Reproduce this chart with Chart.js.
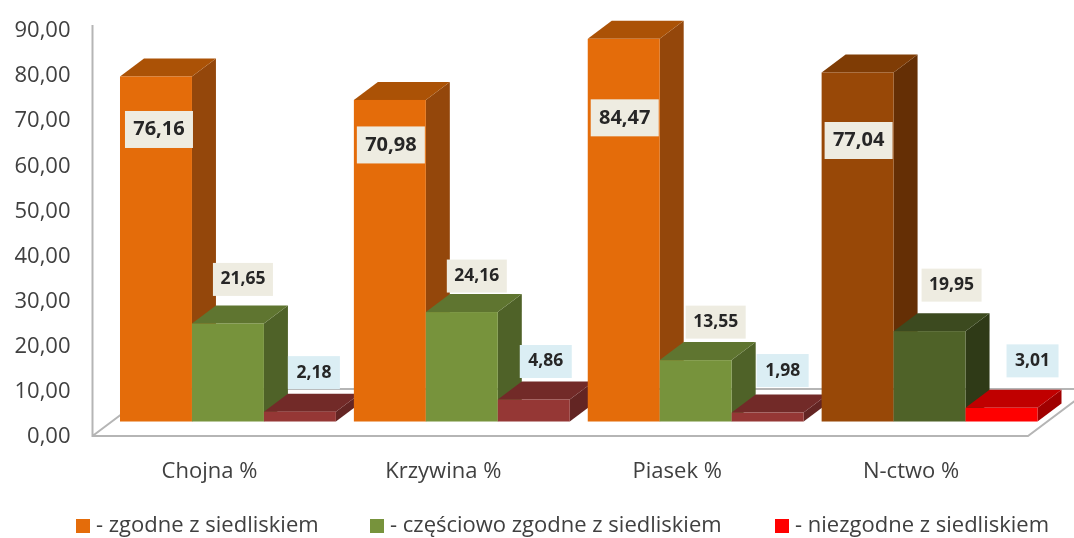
<!DOCTYPE html>
<html><head><meta charset="utf-8">
<style>html,body{margin:0;padding:0;background:#fff}#wrap{position:relative;width:1074px;height:538px}canvas{filter:blur(0.5px)}</style>
<script src="https://cdn.jsdelivr.net/npm/chart.js@4"></script>
</head><body><div id="wrap"><canvas id="c" width="1074" height="538"></canvas></div>
<script>
const categories = ['Chojna %','Krzywina %','Piasek %','N-ctwo %'];
const zgodne = [76.16,70.98,84.47,77.04];
const czesciowo = [21.65,24.16,13.55,19.95];
const niezgodne = [2.18,4.86,1.98,3.01];
const seriesNames = ['- zgodne z siedliskiem','- częściowo zgodne z siedliskiem','- niezgodne z siedliskiem'];
const yTicks = [0,10,20,30,40,50,60,70,80,90];

const FONT = '"Open Sans", sans-serif';
const DEPTH_X = 24, DEPTH_Y = 18, SHIFT_X = 18.5;
// colours: [front, side, top]
const palette = [
 [['#e46c0a','#94470b','#ab5206'],['#e46c0a','#94470b','#ab5206'],['#e46c0a','#94470b','#ab5206'],['#984807','#652f05','#7f3c05']],
 [['#77933c','#4f6228','#5f7530'],['#77933c','#4f6228','#5f7530'],['#77933c','#4f6228','#5f7530'],['#4f6228','#2f3a17','#3c4a1f']],
 [['#953735','#632523','#722a28'],['#953735','#632523','#722a28'],['#953735','#632523','#722a28'],['#ff0000','#a00000','#c00000']]
];
const legendColors = ['#e46c0a','#77933c','#ff0000'];
const legendX = [76,370,775];
// data-label placement relative to the top centre of each bar's front face
const labelShift = [
 [[3,53],[1,45],[1,79],[1,68]],
 [[15,-44],[15,-36],[20,-38],[22,-46]],
 [[14,-39],[12,-38],[15,-42],[31,-47]]
];
const labelStyle = [
 {fill:'#eeece1',font:'bold 20px '+FONT,w:68,h:37},
 {fill:'#eeece1',font:'bold 17.5px '+FONT,w:60,h:33},
 {fill:'#dbeef4',font:'bold 17.5px '+FONT,w:52,h:33}
];
const fmt = v => v.toFixed(2).replace('.',',');

const cuboid = {
  id:'cuboid',
  beforeDatasetDraw(){ return false; },
  beforeDatasetsDraw(chart){
    const {ctx,chartArea:a} = chart;
    // floor and axis wall
    const fy = a.bottom-1, bx = 47*DEPTH_X/DEPTH_Y;
    ctx.save();
    ctx.strokeStyle='#b5b5b5'; ctx.lineWidth=2;
    ctx.beginPath();
    ctx.moveTo(a.left,a.top-6); ctx.lineTo(a.left,fy); ctx.lineTo(a.right,fy);
    ctx.lineTo(a.right+bx,fy-47); ctx.lineTo(a.left+bx,fy-47); ctx.lineTo(a.left,fy);
    ctx.stroke();
    ctx.restore();
  },
  afterDatasetsDraw(chart){
    const {ctx} = chart;
    const metas = [0,1,2].map(i=>chart.getDatasetMeta(i));
    for(let c=0;c<categories.length;c++){
      metas.forEach((m,d)=>{
        const b = m.data[c], col = palette[d][c];
        const l = b.x-b.width/2+SHIFT_X, r = b.x+b.width/2+SHIFT_X, t = b.y, f = b.base;
        ctx.fillStyle = col[1];
        ctx.beginPath();ctx.moveTo(r,f);ctx.lineTo(r+DEPTH_X,f-DEPTH_Y);ctx.lineTo(r+DEPTH_X,t-DEPTH_Y);ctx.lineTo(r,t);ctx.closePath();ctx.fill();
        ctx.fillStyle = col[2];
        ctx.beginPath();ctx.moveTo(l,t);ctx.lineTo(l+DEPTH_X,t-DEPTH_Y);ctx.lineTo(r+DEPTH_X,t-DEPTH_Y);ctx.lineTo(r,t);ctx.closePath();ctx.fill();
        ctx.fillStyle = col[0];
        ctx.fillRect(l,t,r-l,f-t);
      });
    }
    ctx.textAlign='center';ctx.textBaseline='middle';
    metas.forEach((m,d)=>{
      m.data.forEach((b,c)=>{
        const s = labelStyle[d], sh = labelShift[d][c];
        const x = b.x+SHIFT_X+sh[0], y = b.y+sh[1];
        ctx.fillStyle=s.fill; ctx.fillRect(x-s.w/2,y-s.h/2,s.w,s.h);
        ctx.fillStyle='#262626'; ctx.font=s.font;
        ctx.fillText(fmt(chart.data.datasets[d].data[c]),x,y);
      });
    });
    // legend
    ctx.textAlign='left';
    ctx.font='22px '+FONT;
    seriesNames.forEach((n,i)=>{
      ctx.fillStyle=legendColors[i]; ctx.fillRect(legendX[i],519,14,14);
      ctx.fillStyle='#404040'; ctx.fillText(n,legendX[i]+20,526);
    });
  }
};

new Chart(document.getElementById('c'),{
  type:'bar',
  data:{labels:categories,datasets:[
    {label:seriesNames[0],data:zgodne,yAxisID:'bars',backgroundColor:legendColors[0]},
    {label:seriesNames[1],data:czesciowo,yAxisID:'bars',backgroundColor:legendColors[1]},
    {label:seriesNames[2],data:niezgodne,yAxisID:'bars',backgroundColor:legendColors[2]}
  ]},
  plugins:[cuboid],
  options:{
    responsive:false,animation:false,
    layout:{padding:{top:31,right:46,bottom:0,left:0}},
    datasets:{bar:{categoryPercentage:216/234,barPercentage:1}},
    plugins:{legend:{display:false},tooltip:{enabled:false},title:{display:false}},
    scales:{
      x:{grid:{display:false},border:{display:false},
        ticks:{color:'#404040',font:{family:FONT,size:22},padding:14,maxRotation:0},
        afterFit(s){s.height=101;s.paddingLeft=0;s.paddingRight=0;}},
      y:{min:0,max:90,position:'left',
        afterBuildTicks(s){s.ticks=yTicks.map(v=>({value:v}));},
        grid:{display:false},border:{display:false},
        ticks:{color:'#404040',font:{family:FONT,size:22},padding:14,callback:v=>fmt(v)},
        afterFit(s){s.width=92.5;s.paddingTop=0;s.paddingBottom=0;}},
      bars:{display:false,min:-3.42,max:86.2}
    }
  }
});
</script></body></html>
